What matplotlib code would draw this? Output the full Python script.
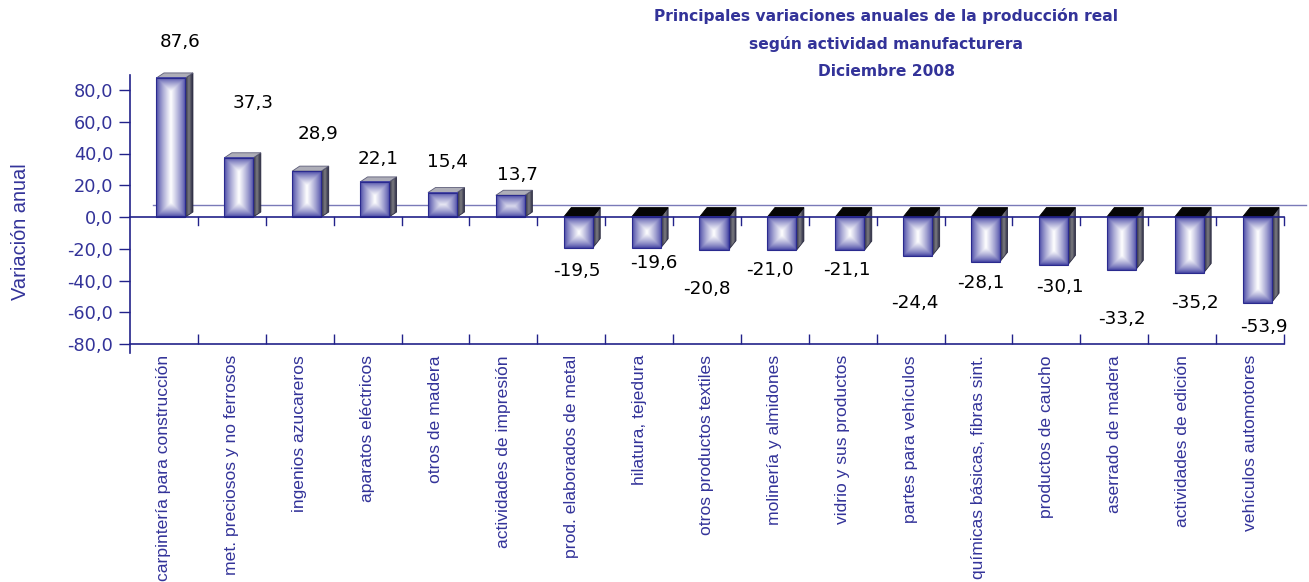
import numpy as np
import matplotlib
matplotlib.use("Agg")
import matplotlib.pyplot as plt
from matplotlib.patches import Polygon

# --- Data ---
categories = [
    "carpintería para construcción", "met. preciosos y no ferrosos", "ingenios azucareros",
    "aparatos eléctricos", "otros de madera", "actividades de impresión",
    "prod. elaborados de metal", "hilatura, tejedura", "otros productos textiles",
    "molinería y almidones", "vidrio y sus productos", "partes para vehículos",
    "químicas básicas, fibras sint.", "productos de caucho", "aserrado de madera",
    "actividades de edición", "vehículos automotores",
]
values = [87.6, 37.3, 28.9, 22.1, 15.4, 13.7, -19.5, -19.6, -20.8, -21.0, -21.1,
          -24.4, -28.1, -30.1, -33.2, -35.2, -53.9]
yticks = [-80, -60, -40, -20, 0, 20, 40, 60, 80]

# where the value labels sit (data units, as placed in the original)
label_y = [110.4, 71.6, 52.1, 36.3, 34.5, 26.5, -34.0, -28.8, -45.4, -33.4, -33.4,
           -54.0, -41.4, -43.9, -64.4, -54.4, -69.5]
label_dx = [0.24, 0.31, 0.27, 0.15, 0.18, 0.21, 0.08, 0.22, 0.0, -0.07, 0.06,
            0.06, 0.03, 0.2, 0.11, 0.19, 0.2]

# --- Style ---
NAVY = "#22228a"
TXT_BLUE = "#333399"
W, H = 1309, 582
PX_X = 67.88          # pixels per category
PX_Y = 1.5875         # pixels per unit of y
Y_TOP = 100.0

fig = plt.figure(figsize=(W / 100, H / 100), dpi=100)
top_px = 217 - Y_TOP * PX_Y
ax = fig.add_axes([130 / W, (H - 344) / H, 1154 / W, (344 - top_px) / H])
ax.set_xlim(-0.5, 16.5)
ax.set_ylim(-80, Y_TOP)


def box_gradient(wpx, hpx, c_edge, c_mid, gamma=1.0):
    nx = max(int(wpx * 3), 4)
    ny = max(int(hpx * 3), 4)
    xs = (np.arange(nx) + 0.5) / nx * wpx
    ys = (np.arange(ny) + 0.5) / ny * hpx
    X, Y = np.meshgrid(xs, ys)
    d = np.minimum(np.minimum(X, wpx - X), np.minimum(Y, hpx - Y))
    t = np.clip(d / (wpx / 2), 0, 1) ** gamma
    c0 = np.array(c_edge)
    c1 = np.array(c_mid)
    return c0 + (c1 - c0) * t[..., None]


def hexrgb(h):
    return np.array(matplotlib.colors.to_rgb(h))


bw = 29 / PX_X
off = 7 / PX_X
ddx = 7.5 / PX_X
front_edge = hexrgb("#3a3a9e")
white = hexrgb("#ffffff")

for i, v in enumerate(values):
    x0 = i + off - bw / 2
    x1 = x0 + bw
    ddy = (5 if v > 0 else 9.4) / PX_Y
    lo, hi = min(0, v), max(0, v)

    # side face
    side = Polygon([(x1, lo), (x1 + ddx, lo + ddy), (x1 + ddx, hi + ddy), (x1, hi)],
                   closed=True, transform=ax.transData)
    simg = box_gradient(7.5, (hi - lo + ddy) * PX_Y, hexrgb("#22223e"), hexrgb("#7c7c80"))
    im = ax.imshow(simg, extent=(x1, x1 + ddx, lo, hi + ddy), aspect="auto",
                   origin="lower", interpolation="bilinear", zorder=3)
    im.set_clip_path(side)
    ax.add_patch(Polygon(side.get_xy(), closed=True, fill=False, ec="#2a2a40",
                         lw=0.6, zorder=3.1))

    # top face
    top = [(x0, hi), (x0 + ddx, hi + ddy), (x1 + ddx, hi + ddy), (x1, hi)]
    if v > 0:
        ax.add_patch(Polygon(top, closed=True, fc="#aeaeb8", ec="#5c5c78", lw=0.6, zorder=3.2))
    else:
        ax.add_patch(Polygon(top, closed=True, fc="#050505", ec="#000000", lw=0.6, zorder=3.2))

    # front face
    fimg = box_gradient(29, (hi - lo) * PX_Y, front_edge, white, gamma=0.75)
    ax.imshow(fimg, extent=(x0, x1, lo, hi), aspect="auto", origin="lower",
              interpolation="bilinear", zorder=4)
    ax.add_patch(plt.Rectangle((x0, lo), bw, hi - lo, fill=False, ec="#2a2a8e",
                               lw=0.8, zorder=4.1))

    # value label
    ax.text(i + label_dx[i], label_y[i], f"{v:.1f}".replace(".", ","),
            ha="center", va="center", fontsize=13.2, family="DejaVu Sans",
            color="black", zorder=6)

ax.set_xlim(-0.5, 16.5)
ax.set_ylim(-80, Y_TOP)

# back floor line and zero line with ticks
back_y = 12 / PX_Y
ax.plot([-0.5 + 23 / PX_X, 16.5 + 22 / PX_X], [back_y, back_y], color="#7a7ab8",
        lw=1.0, clip_on=False, zorder=2)
ax.plot([-0.5, 16.5], [0, 0], color=NAVY, lw=1.2, zorder=5, clip_on=False)
bounds = np.arange(0.5, 17, 1.0)
for b in bounds:
    ax.plot([b, b], [0, -8 / PX_Y], color=NAVY, lw=1.0, zorder=5, clip_on=False)

# spines
for s in ["top", "right"]:
    ax.spines[s].set_visible(False)
ax.spines["left"].set_color(NAVY)
ax.spines["bottom"].set_color(NAVY)
ax.spines["left"].set_linewidth(1.2)
ax.spines["bottom"].set_linewidth(1.2)
ax.spines["left"].set_bounds(-85.7, 89.4)

ax.set_yticks(yticks)
ax.set_yticklabels([f"{t:.1f}".replace(".", ",") for t in yticks])
ax.tick_params(axis="y", direction="out", length=8, width=1.0, color=NAVY,
               labelcolor=TXT_BLUE, labelsize=12.8, pad=4)
for lab in ax.get_yticklabels():
    lab.set_family("DejaVu Sans")

ax.set_xticks(range(len(categories)))
ax.set_xticklabels(categories, rotation=90, family="Liberation Sans",
                   fontsize=12.6, color=TXT_BLUE)
ax.tick_params(axis="x", which="major", length=0, pad=8)
ax.set_xticks(bounds, minor=True)
ax.tick_params(axis="x", which="minor", direction="in", length=7, width=1.0, color=NAVY)

fig.text(21 / W, 1 - 232 / H, "Variación anual", rotation=90, ha="center", va="center",
         family="Liberation Sans", fontsize=14.4, color=TXT_BLUE)

title_lines = ["Principales variaciones anuales de la producción real",
               "según actividad manufacturera", "Diciembre 2008"]
for k, line in enumerate(title_lines):
    fig.text(886 / W, 1 - (16 + 27.5 * k) / H, line, ha="center", va="center",
             family="DejaVu Sans", fontweight="bold", fontsize=11.2, color=TXT_BLUE)

fig.savefig("out.png", dpi=100)
